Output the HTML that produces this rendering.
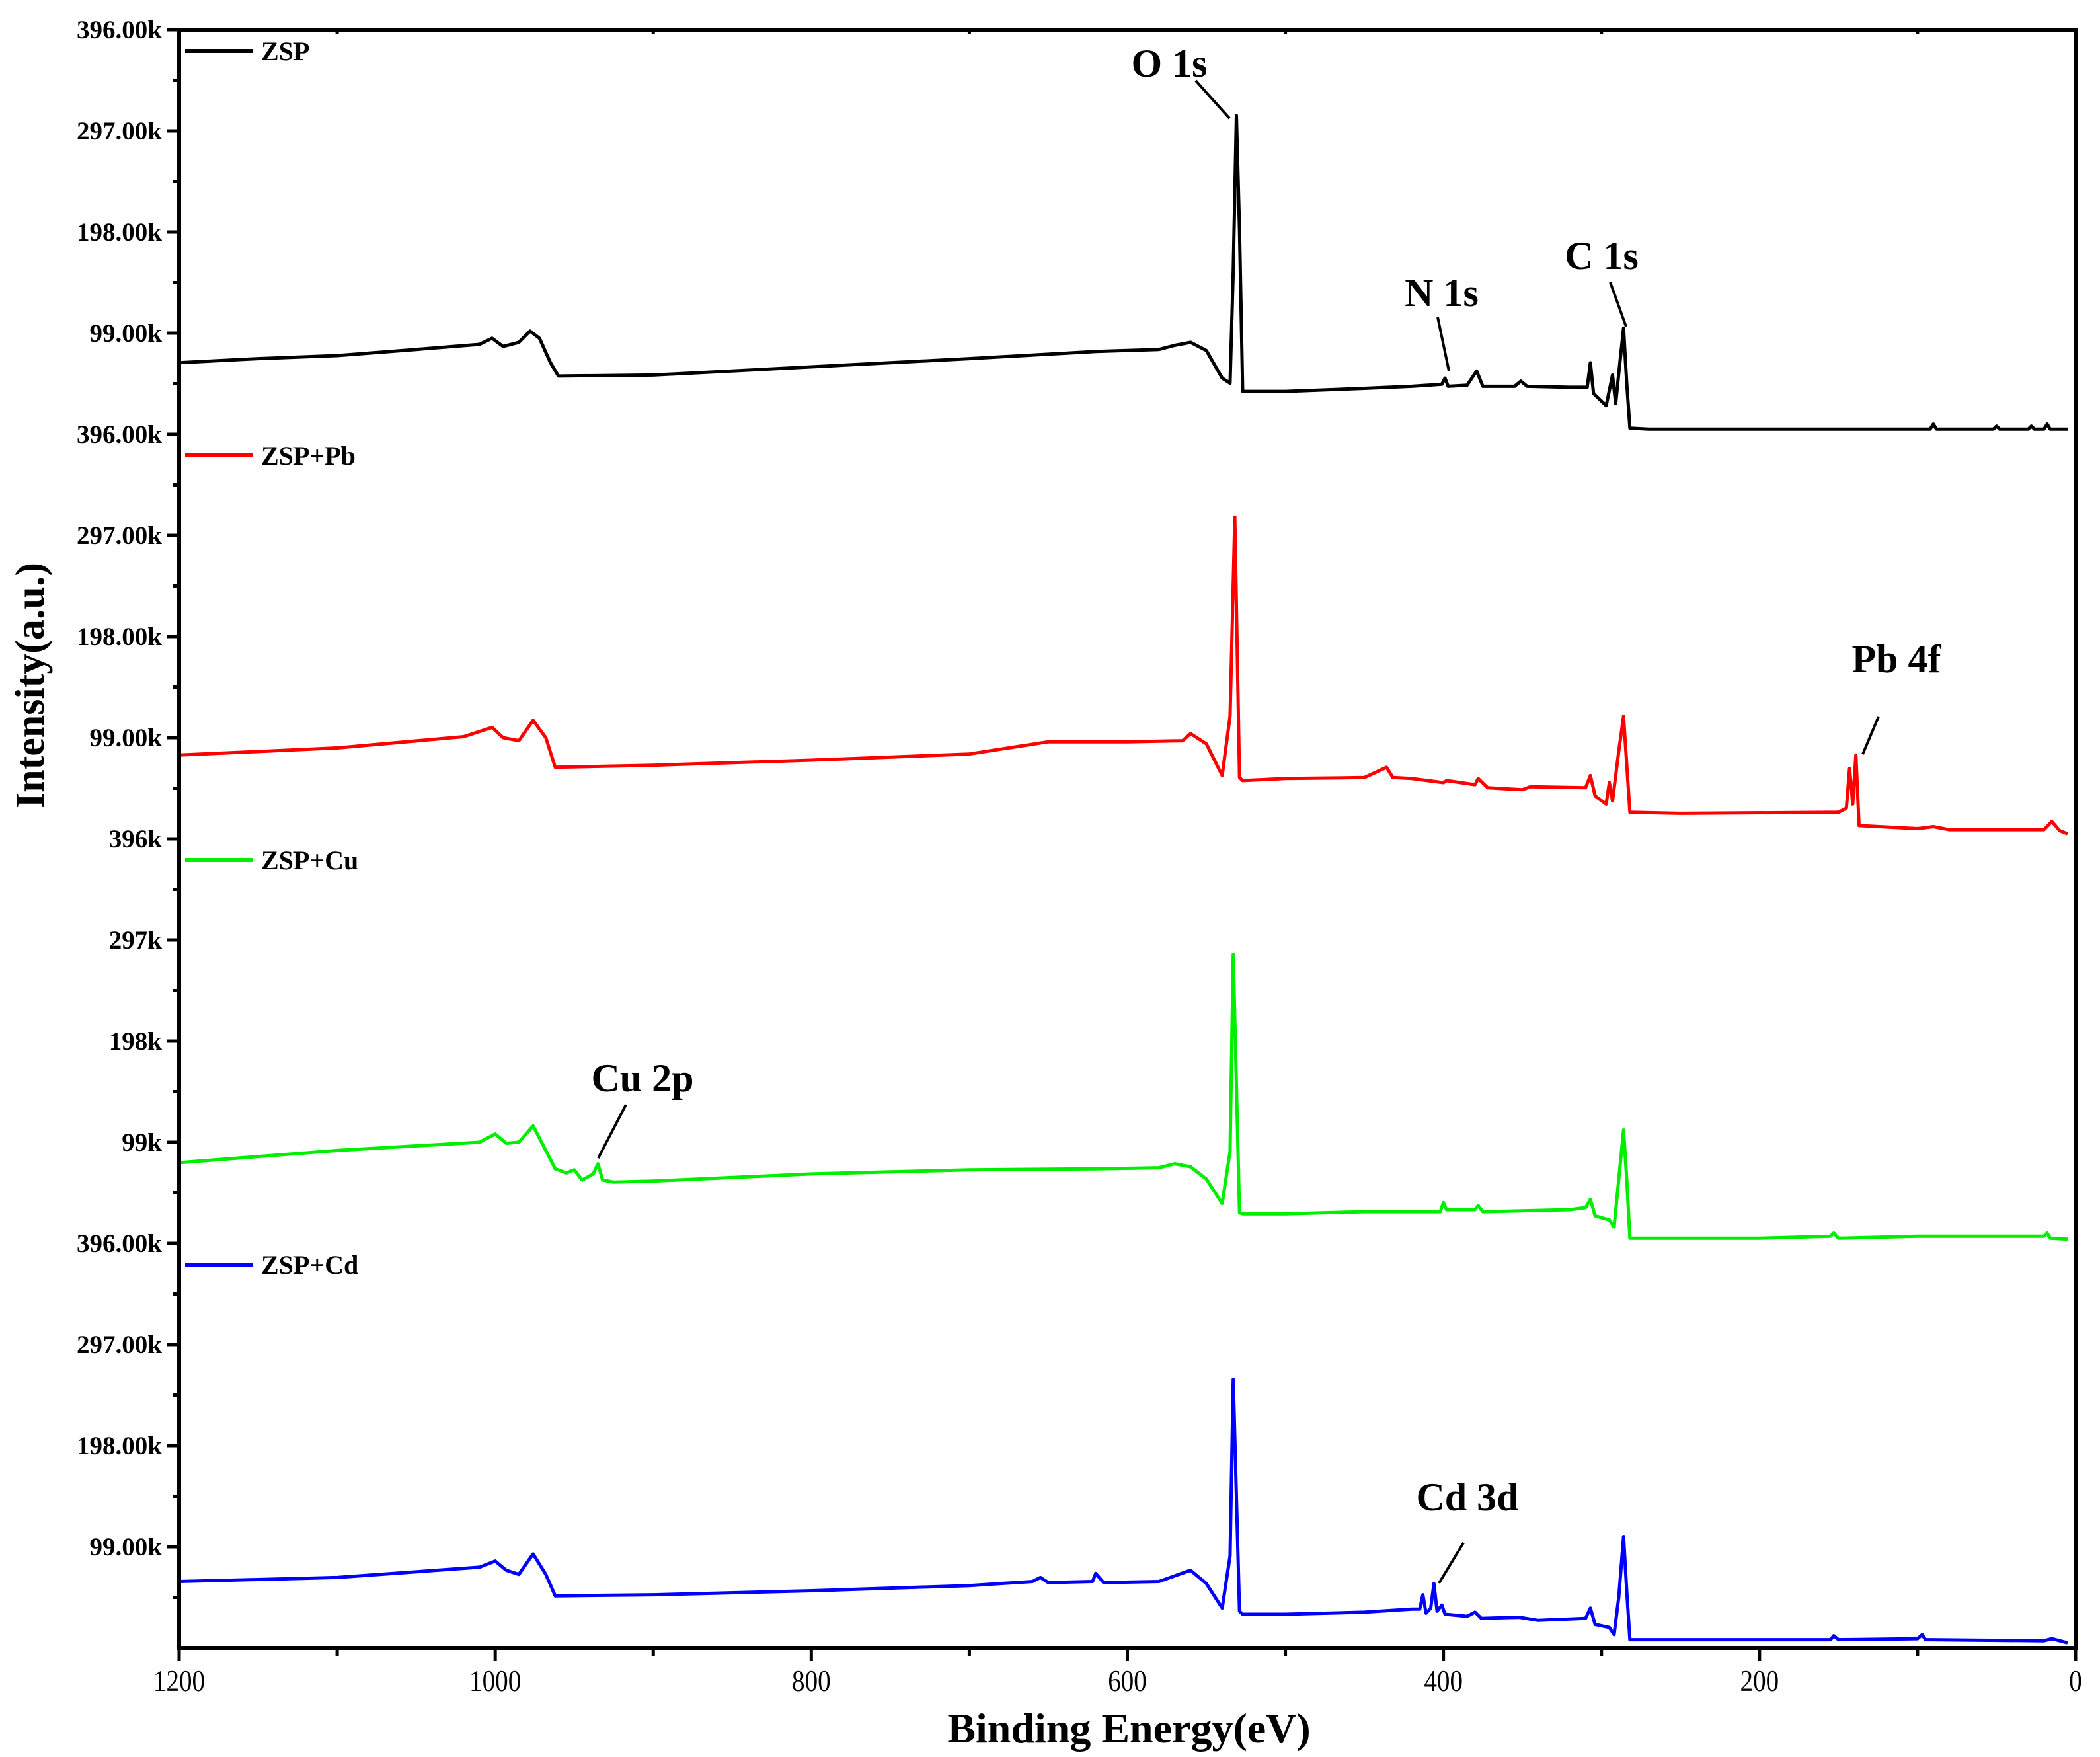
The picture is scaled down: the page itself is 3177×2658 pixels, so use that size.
<!DOCTYPE html>
<html><head><meta charset="utf-8"><style>
html,body{margin:0;padding:0;background:#fff;}
svg{display:block;}
text{font-family:"Liberation Serif","Times New Roman",serif;}
</style></head><body>
<svg id="chart" width="3177" height="2658" viewBox="0 0 3177 2658" xmlns="http://www.w3.org/2000/svg">
<g id="grid-layer"></g>
</svg>
<script>
// ---- data (binding energy eV, intensity k counts) ----
const seriesNames = ["ZSP","ZSP+Pb","ZSP+Cu","ZSP+Cd"];
const seriesColors = ["#000000","#ff0000","#00ee00","#0000ff"];
const zspEnergy = [1200,1150,1100,1050,1010,1002,995,985,978,972,965,960,900,800,700,620,580,570,560,550,540,535,533,531,529,527,500,450,420,401,399,397,385,379,375,355,351,347,320,309,307,305,297,293,291,289,286,284,282,270,200,155,92,90,88,52,50,48,30,28,26,20,18,16,5];
const zspValue  = [70,74,77,83,88,94,86,90,101,94,70,57,58,66,74,81,83,87,90,82,55,50,160,312,200,42,42,45,47,49,55,47,48,62,47,47,52,47,46,46,70,40,28,58,30,60,104,50,6,5,5,5,5,10,5,5,8,5,5,8,5,5,10,5,5];
const pbEnergy = [1200,1100,1020,1002,995,985,976,968,962,900,800,700,650,600,565,560,550,540,535,532,529,527,500,450,436,432,420,400,398,380,378,372,350,345,310,307,304,297,295,293,289,286,284,282,250,150,145,143,141,139,137,100,90,80,20,15,10,5];
const pbValue  = [82,89,100,109,99,96,116,99,70,72,77,83,95,95,96,103,93,62,120,315,60,57,59,60,70,60,59,55,57,53,59,50,48,51,50,62,42,34,55,37,86,120,73,26,25,26,30,69,34,82,13,10,12,9,9,17,8,5];
const cuEnergy = [1200,1100,1010,1000,993,985,976,968,962,955,950,945,938,935,932,925,900,800,700,620,580,570,560,550,540,535,533,529,527,500,450,402,400,398,380,378,375,320,310,307,304,295,292,289,286,284,282,200,155,153,150,100,20,18,16,5];
const cuValue  = [79,91,99,107,98,99,115,91,73,69,72,62,68,78,62,60,61,68,72,73,74,78,75,63,39,90,283,30,29,29,31,31,40,33,33,37,31,33,35,43,27,23,16,63,111,63,5,5,7,10,5,7,7,10,5,4];
const cdEnergy = [1200,1100,1010,1000,993,985,976,968,962,900,800,700,660,655,650,622,620,615,580,560,550,540,535,533,529,527,500,450,420,415,413,411,408,406,404,401,399,385,380,376,352,340,310,307,304,295,292,289,286,284,282,200,155,153,150,100,97,95,20,15,5];
const cdValue  = [65,69,79,85,76,72,92,72,51,52,56,61,65,69,64,65,73,64,65,76,63,39,90,263,36,33,33,35,38,38,52,34,39,63,36,42,33,31,35,29,30,27,29,39,23,20,13,50,109,56,8,8,8,12,8,9,13,8,7,9,5];
const panelOffsets = [1188,792,396,0];
const yTickLabels = [["396.00k","297.00k","198.00k","99.00k"],["396.00k","297.00k","198.00k","99.00k"],["396k","297k","198k","99k"],["396.00k","297.00k","198.00k","99.00k"]];
const xTicks = [1200,1000,800,600,400,200,0];
const annotations = [
 {label:"O 1s", tx:1769, ty:116, x1:1809,y1:122,x2:1860,y2:179},
 {label:"N 1s", tx:2181, ty:463, x1:2175,y1:480,x2:2192,y2:561},
 {label:"C 1s", tx:2423, ty:407, x1:2436,y1:427,x2:2460,y2:494},
 {label:"Pb 4f", tx:2869, ty:1017, x1:2842,y1:1084,x2:2818,y2:1141},
 {label:"Cu 2p", tx:972, ty:1651, x1:947,y1:1671,x2:905,y2:1752},
 {label:"Cd 3d", tx:2220, ty:2285, x1:2214,y1:2334,x2:2177,y2:2395}
];
const energies = [zspEnergy,pbEnergy,cuEnergy,cdEnergy];
const values = [zspValue,pbValue,cuValue,cdValue];

// ---- layout ----
const L=271,R=3140,T=45,B=2493;
const xs = e => L + (1200-e)/1200*(R-L);
const ys = v => B - v/(4*396)*(B-T);
const NS="http://www.w3.org/2000/svg";
const svg=document.getElementById('chart');
function mk(tag,attrs,parent){const el=document.createElementNS(NS,tag);for(const k in attrs)el.setAttribute(k,attrs[k]);(parent||svg).appendChild(el);return el;}

// series
for(let s=0;s<4;s++){
  let d="";
  for(let i=0;i<energies[s].length;i++){
    d+=(i?"L":"M")+xs(energies[s][i]).toFixed(1)+","+ys(values[s][i]+panelOffsets[s]).toFixed(1);
  }
  const p=mk('path',{d:d,fill:"none",stroke:seriesColors[s],"stroke-width":5,"stroke-linejoin":"round"});
  
  
}

// frame
const fr=mk('rect',{x:L,y:T,width:R-L,height:B-T,fill:"none",stroke:"#000","stroke-width":6});



// y ticks & labels
for(let s=0;s<4;s++){
  for(let k=0;k<4;k++){
    const v=panelOffsets[s]+396-k*99;
    const y=ys(v);
    const t=mk('line',{x1:L-18,x2:L,y1:y,y2:y,stroke:"#000","stroke-width":5});
    
    
    const ym=ys(v-49.5);
    const mt=mk('line',{x1:L-10,x2:L,y1:ym,y2:ym,stroke:"#000","stroke-width":5});
    
    
    const lb=mk('text',{x:L-26,y:y+13,"text-anchor":"end","font-size":39,"font-weight":"bold"});
    lb.textContent=yTickLabels[s][k];
    
    
  }
}
// x ticks
for(let e=1200;e>=0;e-=100){
  const x=xs(e), major=(e%200===0);
  const t=mk('line',{x1:x,x2:x,y1:B,y2:B+(major?20:12),stroke:"#000","stroke-width":5});
  
  
  const tt=mk('line',{x1:x,x2:x,y1:T,y2:T+(major?0:6),stroke:"#000","stroke-width":5});
  
  
}
for(const e of xTicks){
  const x=xs(e);
  const lb=mk('text',{x:0,y:0,"text-anchor":"middle","font-size":46,transform:"translate("+x+",2558) scale(0.85,1)"});
  lb.textContent=String(e);
  
  
}
// legends
for(let s=0;s<4;s++){
  const y0=ys(panelOffsets[s]+396)+32;
  const ln=mk('line',{x1:280,x2:383,y1:y0,y2:y0,stroke:seriesColors[s],"stroke-width":6});
  
  
  const lt=mk('text',{x:395,y:y0+14,"font-size":40,"font-weight":"bold"});
  lt.textContent=seriesNames[s];
  
  
}
// annotations
for(const a of annotations){
  const t=mk('text',{x:a.tx,y:a.ty,"text-anchor":"middle","font-size":60,"font-weight":"bold"});
  t.textContent=a.label;
  
  
  const l=mk('line',{x1:a.x1,y1:a.y1,x2:a.x2,y2:a.y2,stroke:"#000","stroke-width":4});
  
  
}
// axis titles
const xt=mk('text',{x:1708,y:2636,"text-anchor":"middle","font-size":64,"font-weight":"bold"});
xt.textContent="Binding Energy(eV)";


const yt=mk('text',{x:0,y:0,"text-anchor":"middle","font-size":62,"font-weight":"bold",transform:"translate(66,1037) rotate(-90)"});
yt.textContent="Intensity(a.u.)";


</script>
</body></html>
